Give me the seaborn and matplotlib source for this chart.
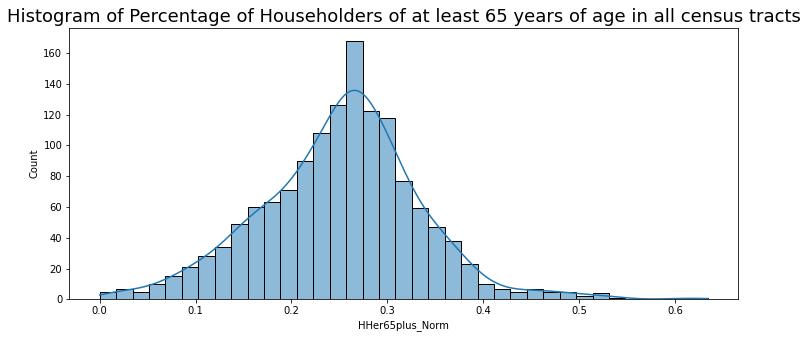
import numpy as np
import pandas as pd
import matplotlib
matplotlib.use("Agg")
import matplotlib.pyplot as plt
import seaborn as sns

# Histogram bin range and counts
x_min = 0.0
x_max = 0.634
counts = [5, 7, 5, 10, 15, 21, 28, 34, 49, 60, 63, 71, 90, 108, 126, 168, 122, 118,
          77, 59, 47, 38, 23, 10, 7, 5, 7, 5, 5, 2, 4, 1, 0, 0, 0, 1, 1]
title = "Histogram of Percentage of Householders of at least 65 years of age in all census tracts"
x_label = "HHer65plus_Norm"
y_label = "Count"

edges = np.linspace(x_min, x_max, len(counts) + 1)
centers = (edges[:-1] + edges[1:]) / 2
df = pd.DataFrame({"HHer65plus_Norm": centers, "w": counts})

# KDE bandwidth matched to an unweighted sample of the same size
w = np.asarray(counts, float)
n_total = w.sum()
n_eff = w.sum() ** 2 / (w ** 2).sum()
bw_adj = (n_eff / n_total) ** 0.2
# seaborn defines the KDE support grid from an unweighted fit of the centers
bw_support = np.std(centers, ddof=1) * len(centers) ** -0.2 * bw_adj
cut = ((edges[1] - edges[0]) / 2) / bw_support

fig = plt.figure(figsize=(808 / 72, 338 / 72), dpi=72)
ax = fig.add_axes([69.3 / 808, (338 - 299.3) / 338, 668.7 / 808, 271.6 / 338])

sns.histplot(data=df, x="HHer65plus_Norm", weights="w", bins=[float(e) for e in edges],
             kde=True, edgecolor="black", linewidth=1.0, ax=ax,
             kde_kws=dict(bw_adjust=bw_adj, cut=cut * 0.999),
             line_kws=dict(linewidth=1.5))

ax.set_title(title, fontsize=18)
ax.set_xlabel(x_label)
ax.set_ylabel(y_label)

fig.savefig("out.png", dpi=72)
